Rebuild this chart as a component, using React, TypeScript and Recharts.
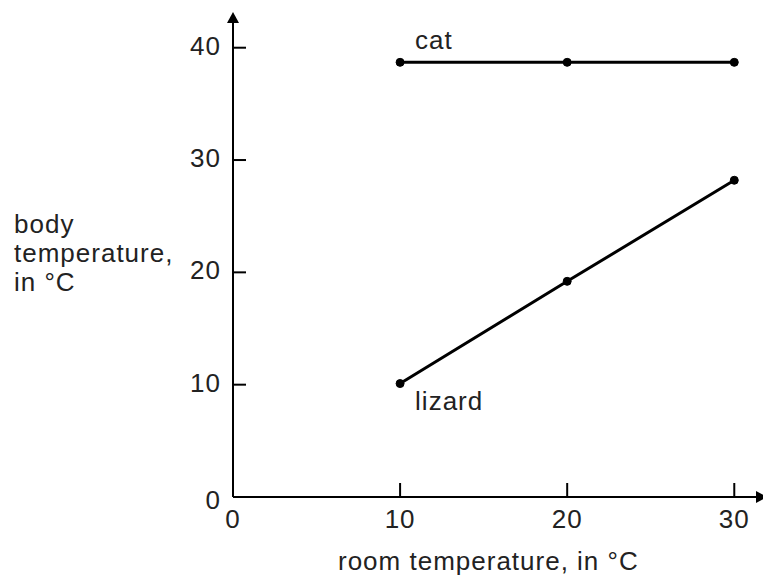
import React from 'react';
import { LineChart, Line, XAxis, YAxis, Label, LabelList } from 'recharts';

const roomTemps = [10, 20, 30];
const catTemps = [38.7, 38.7, 38.7];
const lizardTemps = [10.1, 19.2, 28.2];
const xTicks = [0, 10, 20, 30];
const yTicks = [0, 10, 20, 30, 40];
const seriesNames = ['cat', 'lizard'];
const xTitle = 'room temperature, in °C';
const yTitleLines = ['body', 'temperature,', 'in °C'];

const data = roomTemps.map((r, i) => ({ room: r, cat: catTemps[i], lizard: lizardTemps[i] }));

const FONT = '"Liberation Sans", Arial, sans-serif';
const FS = 26;
const LS = 1;
const INK = '#222';

const XTick = (props: any) => {
  const { x, y, payload } = props;
  return (
    <g>
      {payload.value !== 0 && (
        <line x1={x} x2={x} y1={y} y2={y - 14} stroke="#000" strokeWidth={2} />
      )}
      <text x={x} y={y + 31} textAnchor="middle" fontFamily={FONT} fontSize={FS} letterSpacing={LS} fill={INK}>
        {payload.value}
      </text>
    </g>
  );
};

const YTick = (props: any) => {
  const { x, y, payload } = props;
  const isZero = payload.value === 0;
  return (
    <g>
      {!isZero && (
        <line x1={x} x2={x + 13} y1={y} y2={y} stroke="#000" strokeWidth={2} />
      )}
      <text x={x - 12} y={y + (isZero ? 12 : 7)} textAnchor="end" fontFamily={FONT} fontSize={FS} letterSpacing={LS} fill={INK}>
        {payload.value}
      </text>
    </g>
  );
};

const makeSeriesLabel = (name: string, dx: number, dy: number) => (props: any) => {
  const { x, y, index } = props;
  if (index !== 0) return null;
  return (
    <text x={x + dx} y={y + dy} fontFamily={FONT} fontSize={FS} letterSpacing={LS} fill={INK}>
      {name}
    </text>
  );
};

const YTitle = (props: any) => {
  const { viewBox } = props;
  const cy = viewBox.y + viewBox.height / 2;
  return (
    <text fontFamily={FONT} fontSize={FS} letterSpacing={LS} fill={INK}>
      {yTitleLines.map((l, i) => (
        <tspan key={i} x={14} y={cy - 27 + i * 29}>
          {l}
        </tspan>
      ))}
    </text>
  );
};

const XTitle = (props: any) => {
  const { viewBox } = props;
  return (
    <text x={viewBox.x + 105} y={viewBox.y + 73} fontFamily={FONT} fontSize={FS} letterSpacing={LS} fill={INK}>
      {xTitle}
    </text>
  );
};

export default function App() {
  return (
    <div style={{ position: 'absolute', left: 0, top: 0, width: 763, height: 575, background: '#fff' }}>
      <svg width={0} height={0} style={{ position: 'absolute' }}>
        <defs>
          <marker id="arrowHead" markerWidth={11} markerHeight={12} refX={0} refY={6} orient="auto-start-reverse" markerUnits="userSpaceOnUse">
            <path d="M0,0 L11,6 L0,12 z" fill="#000" />
          </marker>
        </defs>
      </svg>
      <LineChart width={763} height={575} data={data} margin={{ top: 23, right: 7, bottom: 48, left: 0 }}>
        <XAxis
          dataKey="room"
          type="number"
          domain={[0, 31.3]}
          ticks={xTicks}
          allowDataOverflow
          tickLine={false}
          tickSize={0}
          tickMargin={0}
          tick={<XTick />}
          axisLine={{ stroke: '#000', strokeWidth: 2, markerEnd: 'url(#arrowHead)' }}
          height={30}
        >
          <Label content={<XTitle />} />
        </XAxis>
        <YAxis
          type="number"
          domain={[0, 42.2]}
          ticks={yTicks}
          allowDataOverflow
          tickLine={false}
          tickSize={0}
          tickMargin={0}
          tick={<YTick />}
          axisLine={{ stroke: '#000', strokeWidth: 2, markerStart: 'url(#arrowHead)' }}
          width={233}
        >
          <Label content={<YTitle />} />
        </YAxis>
        <Line
          dataKey="cat"
          stroke="#000"
          strokeWidth={3}
          dot={{ r: 4, fill: '#000', stroke: '#000', strokeWidth: 1 }}
          isAnimationActive={false}
        >
          <LabelList dataKey="cat" content={makeSeriesLabel(seriesNames[0], 15, -13)} />
        </Line>
        <Line
          dataKey="lizard"
          stroke="#000"
          strokeWidth={3}
          dot={{ r: 4, fill: '#000', stroke: '#000', strokeWidth: 1 }}
          isAnimationActive={false}
        >
          <LabelList dataKey="lizard" content={makeSeriesLabel(seriesNames[1], 15, 26)} />
        </Line>
      </LineChart>
    </div>
  );
}
